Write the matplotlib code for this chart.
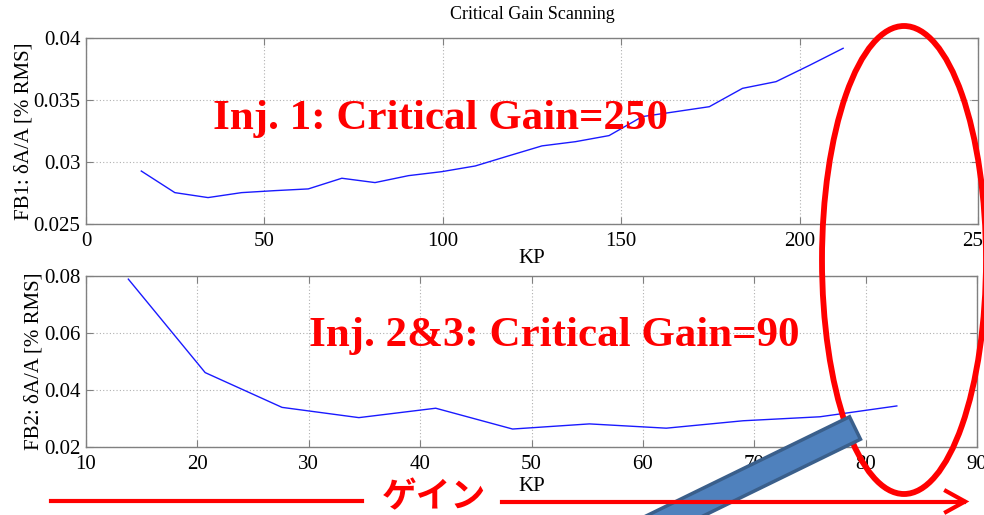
import numpy as np
import matplotlib
matplotlib.use('Agg')
from matplotlib import pyplot as plt
from matplotlib.patches import Ellipse, Polygon
from matplotlib.lines import Line2D

# FB1 scan (Inj. 1)
kp_fb1 = [15.5, 24.9, 34.2, 43.6, 52.9, 62.3, 71.7, 81.0, 90.4, 99.7, 109.1,
          118.5, 127.8, 137.2, 146.6, 155.9, 165.3, 174.7, 184.0, 193.4, 202.8, 212.2]
amp_fb1 = [0.02927, 0.02753, 0.02713, 0.02753, 0.02769, 0.02783, 0.02869, 0.02834,
           0.0289, 0.02922, 0.02968, 0.0305, 0.0313, 0.03164, 0.03213, 0.03366,
           0.03406, 0.03446, 0.03594, 0.03648, 0.0378, 0.03917]

# FB2 scan (Inj. 2&3)
kp_fb2 = [13.8, 20.7, 27.6, 34.5, 41.4, 48.3, 55.2, 62.1, 69.0, 75.9, 82.8]
amp_fb2 = [0.0788, 0.0460, 0.0338, 0.0302, 0.0335, 0.0262, 0.0280, 0.0265,
           0.0291, 0.0305, 0.0343]

W, H = 984, 515
SERIF = ['Liberation Serif', 'DejaVu Serif']
JP = ['Noto Sans CJK JP', 'DejaVu Sans']


def px(x, y):
    # pixel (from top-left) -> figure fraction
    return x / W, 1 - y / H


def style_axes(ax):
    for s in ax.spines.values():
        s.set_color('#808080')
        s.set_linewidth(1.0)
    ax.tick_params(direction='in', top=True, right=True, length=5,
                   color='#808080', labelsize=15)
    ax.tick_params(axis='x', pad=6)
    ax.tick_params(axis='y', pad=4)
    for lab in ax.get_xticklabels() + ax.get_yticklabels():
        lab.set_family(SERIF)
    ax.grid(True, color='#b0b0b0', linestyle=(0, (1, 2)), linewidth=0.8)
    ax.set_axisbelow(True)


fig = plt.figure(figsize=(W / 100, H / 100), dpi=100)

ax1 = fig.add_axes([86 / W, 1 - 224 / H, (978 - 86) / W, (224 - 38) / H])
ax1.plot(kp_fb1, amp_fb1, color='#1a1aff', linewidth=1.0)
ax1.set_xlim(0, 250)
ax1.set_ylim(0.025, 0.04)
ax1.set_xticks([0, 50, 100, 150, 200, 250])
ax1.set_yticks([0.025, 0.03, 0.035, 0.04])
ax1.set_yticklabels(['0.025', '0.03', '0.035', '0.04'])
ax1.set_title('Critical Gain Scanning', family=SERIF, fontsize=13, pad=14)
ax1.set_xlabel('KP', family=SERIF, fontsize=15, labelpad=-2)
ax1.set_ylabel('FB1: δA/A [% RMS]', family=SERIF, fontsize=15, labelpad=0)
style_axes(ax1)

ax2 = fig.add_axes([86 / W, 1 - 446.7 / H, (977 - 86) / W, (446.7 - 275.7) / H])
ax2.plot(kp_fb2, amp_fb2, color='#1a1aff', linewidth=1.0)
ax2.set_xlim(10, 90)
ax2.set_ylim(0.02, 0.08)
ax2.set_xticks([10, 20, 30, 40, 50, 60, 70, 80, 90])
ax2.set_yticks([0.02, 0.04, 0.06, 0.08])
ax2.set_yticklabels(['0.02', '0.04', '0.06', '0.08'])
ax2.set_xlabel('KP', family=SERIF, fontsize=15, labelpad=2)
ax2.set_ylabel('FB2: δA/A [% RMS]', family=SERIF, fontsize=15, labelpad=0)
style_axes(ax2)

# red annotations
fig.text(*px(213, 128.5), 'Inj. 1: Critical Gain=250', family=SERIF,
         fontweight='bold', fontsize=31, color='#ff0000', ha='left', va='baseline')
fig.text(*px(309, 345.7), 'Inj. 2&3: Critical Gain=90', family=SERIF,
         fontweight='bold', fontsize=31, color='#ff0000', ha='left', va='baseline')

ell = Ellipse(px(904, 260), 2 * 82 / W, 2 * 234 / H, transform=fig.transFigure,
              fill=False, edgecolor='#ff0000', linewidth=4.2, zorder=5)
fig.add_artist(ell)

# blue bar
ang = np.deg2rad(26)
cx, cy = 855, 428
hw = 12.5
L = 260
perp = np.array([np.sin(ang), np.cos(ang)])
along = np.array([-np.cos(ang), np.sin(ang)])
c = np.array([cx, cy])
corners = [c - hw * perp, c + hw * perp, c + hw * perp + L * along, c - hw * perp + L * along]
bar = Polygon([px(*p) for p in corners], closed=True, transform=fig.transFigure,
              facecolor='#4f81bd', edgecolor='#3a5f8b', linewidth=2.5, zorder=6)
fig.add_artist(bar)

# gain arrow
fig.add_artist(Line2D([px(51, 0)[0], px(362, 0)[0]], [px(0, 501)[1]] * 2,
                      transform=fig.transFigure, color='#ff0000', linewidth=3, zorder=7))
fig.add_artist(Line2D([px(502, 0)[0], px(964, 0)[0]], [px(0, 501.5)[1]] * 2,
                      transform=fig.transFigure, color='#ff0000', linewidth=3, zorder=7))
hx = [px(946, 0)[0], px(965, 0)[0], px(946, 0)[0]]
hy = [px(0, 491)[1], px(0, 501.5)[1], px(0, 512)[1]]
fig.add_artist(Line2D(hx, hy, transform=fig.transFigure, color='#ff0000',
                      linewidth=3, solid_joinstyle='miter', zorder=7))
fig.text(*px(382, 497), 'ゲイン', family=JP, fontweight='bold', fontsize=25,
         color='#ff0000', ha='left', va='center', zorder=7)

fig.savefig('out.png', dpi=100)
